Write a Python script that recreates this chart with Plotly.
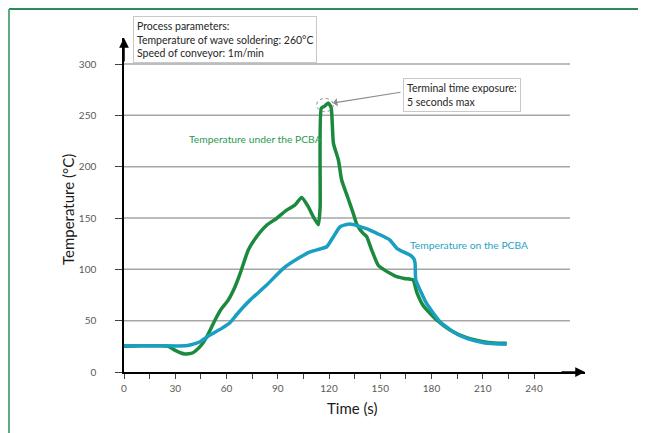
import plotly.graph_objects as go

# ---- data ----
t_under = [0, 10, 20, 26, 30, 35.5, 40, 44.5, 48.4, 53.3, 57.2, 61, 65, 68, 72.8, 77.7, 83.5, 89.4, 95.2,
           100, 104, 107.5, 111.2, 113.8, 114.8, 115.5, 117.5, 119.5, 121.2, 122.6, 125.5, 127.4, 131,
           134.2, 136, 138, 140, 142, 145, 148.8, 152.8, 156, 159.7, 164, 169.2, 171.3, 175, 183,
           190.8, 200.6, 210.4, 217, 224]
T_under = [25, 25.5, 25.5, 25, 21, 17.5, 18.5, 24.7, 34, 50.6, 62, 70, 83, 96, 119, 132, 143, 149.7, 157.7,
           162.6, 170, 162, 150, 143.5, 160, 257, 259, 262, 258, 222.7, 206.5, 187, 170,
           154.5, 145, 139, 135, 132, 118.8, 104, 99, 96, 92.8, 91, 89.6, 78, 65, 50.6,
           41, 33.4, 29.5, 28.3, 28]

t_on = [0, 20, 36, 38.6, 44.5, 50.3, 57.2, 62, 66, 70, 73.8, 83.5, 93.3, 103, 108.9, 114.8, 118.7, 122.6,
        126.5, 131.3, 135, 138.2, 143, 148, 152, 155.7, 159.7, 163.5, 167.4, 169.8, 170.4, 170.8,
        173.3, 177, 181, 185, 192.8, 200.6, 210.4, 217, 224]
T_on = [25.5, 25.5, 25.5, 26.3, 29.5, 36, 42.5, 48, 56, 63.5, 70, 84.7, 101, 111.7, 117, 119.8, 122, 131.8,
        141.5, 144, 143.3, 141.5, 139, 135, 132, 128.5, 120.4, 117, 114, 110, 105.8, 89.6,
        79.8, 67, 57.5, 49, 39, 32.7, 28.5, 27.5, 27]

x_tickvals = list(range(0, 241, 15))
x_ticktext = [str(v) if v % 30 == 0 else "" for v in x_tickvals]
y_tickvals = [0, 50, 100, 150, 200, 250, 300]
y_ticktext = ["0", "50", "100", "150", "200", "250", "300"]

series_names = ["Temperature under the PCBA", "Temperature on the PCBA"]
process_text = "Process parameters:<br>Temperature of wave soldering: 260°C<br>Speed of conveyor: 1m/min"
exposure_text = "Terminal time exposure:<br>5 seconds max"

GREEN = "#1b8a3e"
BLUE = "#1a9fc2"
FONT = "Lato"

OFF = 8  # page offset of the plot inside the browser window
IMG_W, IMG_H = 646, 433
W, H = IMG_W - OFF, IMG_H - OFF
X0_IMG, Y0_IMG = 124, 372          # image pixel of (0 s, 0 °C)
XR_IMG, YT_IMG = 585, 38           # right / top end of axes in image pixels
L, T = X0_IMG - OFF, YT_IMG - OFF
R, B = IMG_W - XR_IMG, IMG_H - Y0_IMG
PX_PER_S = 410 / 240.0
PX_PER_C = 308 / 300.0
pw, ph = W - L - R, H - T - B
x_max = pw / PX_PER_S
y_max = ph / PX_PER_C


def px2paper(px, py):
    return (px - X0_IMG) / pw, (Y0_IMG - py) / ph


fig = go.Figure()
fig.add_trace(go.Scatter(x=t_under, y=T_under, mode="lines", name=series_names[0],
                         line=dict(color=GREEN, width=3.5, shape="spline", smoothing=0.5)))
fig.add_trace(go.Scatter(x=t_on, y=T_on, mode="lines", name=series_names[1],
                         line=dict(color=BLUE, width=3.5, shape="spline", smoothing=0.5)))

shapes = []
grid_end = (570 - X0_IMG) / PX_PER_S
for v in y_tickvals[1:]:
    shapes.append(dict(type="line", xref="x", yref="y", x0=0, x1=grid_end, y0=v, y1=v,
                       line=dict(color="#a6a6a6", width=1.5), layer="below"))
# dotted circle around peak
shapes.append(dict(type="circle", xref="x", yref="y", x0=112.8, x1=122.5, y0=253.5, y1=266.5,
                   line=dict(color="#8c8c8c", width=1, dash="dot")))
# frame lines (top / left)
bx0, by0 = px2paper(OFF + 1, OFF + 1)
bx1, _ = px2paper(IMG_W + 5, OFF + 1)
_, by1 = px2paper(OFF + 1, IMG_H + 5)
shapes.append(dict(type="line", xref="paper", yref="paper", x0=bx0, x1=bx1, y0=by0, y1=by0,
                   line=dict(color="#2e8b57", width=2)))
shapes.append(dict(type="line", xref="paper", yref="paper", x0=bx0, x1=bx0, y0=by0, y1=by1,
                   line=dict(color="#5aad80", width=2)))

annotations = []
# axis arrowheads
annotations.append(dict(xref="paper", yref="paper", x=1, y=0, ax=-25, ay=0, text="",
                        showarrow=True, arrowhead=2, arrowsize=1.3, arrowwidth=1.5, arrowcolor="#000"))
annotations.append(dict(xref="paper", yref="paper", x=0, y=1, ax=0, ay=25, text="",
                        showarrow=True, arrowhead=2, arrowsize=1.3, arrowwidth=1.5, arrowcolor="#000"))
# process parameter box
px_, py_ = px2paper(133, 16)
annotations.append(dict(xref="paper", yref="paper", x=px_, y=py_, xanchor="left", yanchor="top",
                        text=process_text, showarrow=False, align="left",
                        font=dict(family=FONT, size=10.5, color="#262626"),
                        bordercolor="#c8c8c8", borderwidth=1, borderpad=3, bgcolor="white"))
# exposure box with arrow
ex, ey = px2paper(403, 78)
annotations.append(dict(xref="paper", yref="paper", x=ex, y=ey, xanchor="left", yanchor="top",
                        text=exposure_text, showarrow=False, align="left",
                        font=dict(family=FONT, size=10.5, color="#262626"),
                        bordercolor="#c8c8c8", borderwidth=1, borderpad=3, bgcolor="white"))
tx, ty = px2paper(333, 103)
annotations.append(dict(xref="paper", yref="paper", x=tx, y=ty, ax=69, ay=-11, text="",
                        showarrow=True, arrowhead=1, arrowsize=1.2, arrowwidth=1.2, arrowcolor="#8c8c8c"))
# series labels
annotations.append(dict(xref="x", yref="y", x=(186.5 - X0_IMG) / PX_PER_S, y=(Y0_IMG - 139) / PX_PER_C,
                        xanchor="left", yanchor="middle", text=series_names[0], showarrow=False,
                        font=dict(family=FONT, size=10.3, color="#2e9a50")))
annotations.append(dict(xref="x", yref="y", x=(408 - X0_IMG) / PX_PER_S, y=(Y0_IMG - 245) / PX_PER_C,
                        xanchor="left", yanchor="middle", text=series_names[1], showarrow=False,
                        font=dict(family=FONT, size=10.3, color="#2aa3c4")))
# axis titles
axx, axy = px2paper(352, 408)
annotations.append(dict(xref="paper", yref="paper", x=axx, y=axy, xanchor="center", yanchor="middle",
                        text="Time (s)", showarrow=False, font=dict(family=FONT, size=15, color="#1a1a1a")))
ayx, ayy = px2paper(68, 210)
annotations.append(dict(xref="paper", yref="paper", x=ayx, y=ayy, xanchor="center", yanchor="middle",
                        text="Temperature (°C)", textangle=-90, showarrow=False,
                        font=dict(family=FONT, size=15, color="#1a1a1a")))

fig.update_layout(
    width=W, height=H, margin=dict(l=L, r=R, t=T, b=B),
    paper_bgcolor="white", plot_bgcolor="white", showlegend=False,
    font=dict(family=FONT),
    shapes=shapes, annotations=annotations,
    xaxis=dict(range=[0, x_max], tickmode="array", tickvals=x_tickvals, ticktext=x_ticktext,
               showgrid=False, zeroline=False, showline=True, linecolor="#000", linewidth=1.5,
               ticks="outside", ticklen=5, tickwidth=1.2, tickcolor="#404040",
               tickfont=dict(family=FONT, size=10, color="#595959"), ticklabelstandoff=1, fixedrange=True),
    yaxis=dict(range=[0, y_max], tickmode="array", tickvals=y_tickvals, ticktext=y_ticktext,
               showgrid=False, zeroline=False, showline=True, linecolor="#000", linewidth=1.5,
               ticks="outside", ticklen=7, tickwidth=1.2, tickcolor="#404040",
               tickfont=dict(family=FONT, size=10, color="#595959"), ticklabelstandoff=17, fixedrange=True),
)

fig.write_html("out.html")
